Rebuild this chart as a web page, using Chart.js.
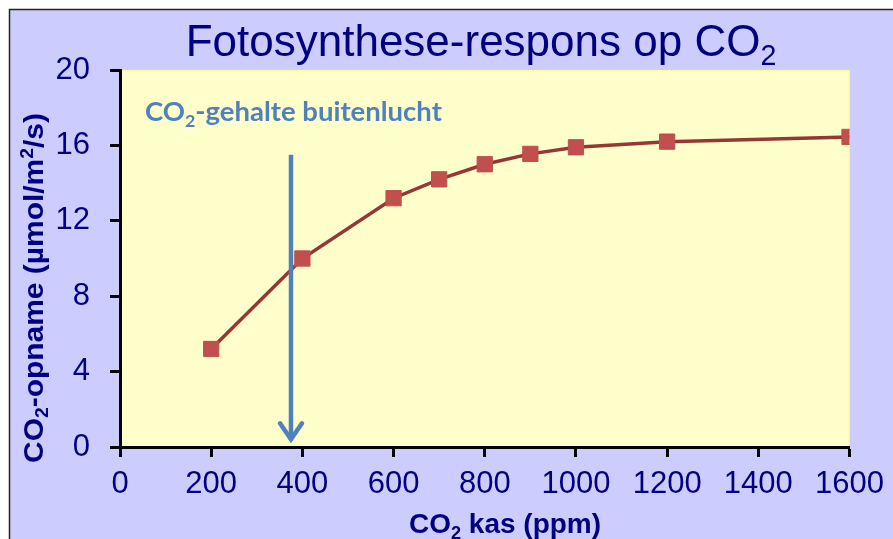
<!DOCTYPE html>
<html>
<head>
<meta charset="utf-8">
<script src="https://cdn.jsdelivr.net/npm/chart.js@4"></script>
<style>
  html, body { margin: 0; padding: 0; background: white; }
  #wrap { width: 893px; height: 539px; }
</style>
</head>
<body>
<div id="wrap"><canvas id="myChart" width="893" height="539"></canvas></div>
<script>
// data
const co2Kas = [200, 400, 600, 700, 800, 900, 1000, 1200, 1600];
const opname = [5.2, 10.0, 13.2, 14.2, 15.0, 15.55, 15.9, 16.2, 16.45];
const xTicks = [0, 200, 400, 600, 800, 1000, 1200, 1400, 1600];
const yTicks = [0, 4, 8, 12, 16, 20];
// arrow for outside air CO2 (x value, top and bottom y values)
const arrowX = [375];
const arrowY = [15.5, 0.25];

const navy = "#000080";
const arrowBlue = "#4f81bd";

// draws text with subscript / superscript pieces, returns width
function drawParts(ctx, parts, x, y, size, weight, family, align, dry) {
    let w = 0;
    parts.forEach(p => {
        let s = p.sub || p.sup ? size * 0.65 : size;
        ctx.font = weight + " " + s + "px " + family;
        w += ctx.measureText(p.t).width;
    });
    if (dry) return w;
    let cx = x;
    if (align === "center") cx = x - w / 2;
    parts.forEach(p => {
        let s = p.sub || p.sup ? size * 0.65 : size;
        ctx.font = weight + " " + s + "px " + family;
        let dy = p.sub ? size * 0.2 : (p.sup ? -size * 0.38 : 0);
        ctx.fillText(p.t, cx, y + dy);
        cx += ctx.measureText(p.t).width;
    });
    return w;
}

const decor = {
    id: "decor",
    beforeDraw(chart) {
        const ctx = chart.ctx;
        const a = chart.chartArea;
        ctx.save();
        ctx.fillStyle = "white";
        ctx.fillRect(0, 0, chart.width, chart.height);
        ctx.fillStyle = "#ccccff";
        ctx.fillRect(10, 10, chart.width - 10, chart.height - 10);
        ctx.strokeStyle = "#222";
        ctx.lineWidth = 1.5;
        ctx.beginPath();
        ctx.moveTo(9.5, chart.height);
        ctx.lineTo(9.5, 9.5);
        ctx.lineTo(chart.width, 9.5);
        ctx.stroke();
        ctx.fillStyle = "#ffffcc";
        ctx.fillRect(a.left, a.top, a.right - a.left, a.bottom - a.top);
        ctx.strokeStyle = "#ffff99";
        ctx.lineWidth = 1;
        ctx.strokeRect(a.left + 0.5, a.top + 0.5, a.right - a.left - 1, a.bottom - a.top);
        ctx.restore();
    },
    afterDatasetsDraw(chart) {
        const ctx = chart.ctx;
        const xs = chart.scales.x, ys = chart.scales.y;
        const ax = xs.getPixelForValue(arrowX[0]);
        const top = ys.getPixelForValue(arrowY[0]);
        const bot = ys.getPixelForValue(arrowY[1]);
        ctx.save();
        ctx.strokeStyle = arrowBlue;
        ctx.lineWidth = 4.5;
        ctx.beginPath();
        ctx.moveTo(ax, top);
        ctx.lineTo(ax, bot - 2);
        ctx.stroke();
        ctx.lineCap = "round";
        ctx.beginPath();
        ctx.moveTo(ax - 11, bot - 19);
        ctx.lineTo(ax, bot - 3);
        ctx.lineTo(ax + 11, bot - 19);
        ctx.stroke();

        // label over the arrow
        ctx.fillStyle = arrowBlue;
        ctx.textBaseline = "alphabetic";
        drawParts(ctx, [{t: "CO"}, {t: "2", sub: true}, {t: "-gehalte buitenlucht"}],
            145, 121, 27.5, "bold", "Lato", "left");
        ctx.restore();
    },
    afterDraw(chart) {
        const ctx = chart.ctx;
        ctx.save();
        ctx.fillStyle = navy;
        ctx.textBaseline = "alphabetic";
        // title
        drawParts(ctx, [{t: "Fotosynthese-respons op CO"}, {t: "2", sub: true}],
            481, 56, 44, "normal", "'Liberation Sans'", "center");
        // x axis title
        drawParts(ctx, [{t: "CO"}, {t: "2", sub: true}, {t: " kas (ppm)"}],
            505, 533, 28, "bold", "'Liberation Sans'", "center");
        // y axis title, rotated
        ctx.translate(43, 288);
        ctx.rotate(-Math.PI / 2);
        const yParts = [{t: "CO"}, {t: "2", sub: true}, {t: "-opname (µmol/m"}, {t: "2", sup: true}, {t: "/s)"}];
        const w = drawParts(ctx, yParts, 0, 0, 27, "bold", "'Liberation Sans'", "center", true);
        ctx.scale(350 / w, 1);
        drawParts(ctx, yParts, 0, 0, 27, "bold", "'Liberation Sans'", "center");
        ctx.restore();
    }
};

const config = {
    type: "line",
    data: {
        datasets: [{
            label: "CO2-opname",
            data: co2Kas.map((x, i) => ({x: x, y: opname[i]})),
            borderColor: "#953735",
            borderWidth: 3.5,
            pointStyle: "rect",
            pointRadius: 10.8,
            pointBackgroundColor: "#c0504d",
            pointBorderColor: "#c0504d",
            pointBorderWidth: 1,
            tension: 0
        }]
    },
    options: {
        responsive: false,
        animation: false,
        events: [],
        layout: { padding: { left: 0, top: 70, right: 43, bottom: 0 } },
        plugins: { legend: { display: false }, title: { display: false }, tooltip: { enabled: false } },
        scales: {
            x: {
                type: "linear",
                min: 0,
                max: 1600,
                afterBuildTicks: (s) => { s.ticks = xTicks.map(v => ({value: v})); },
                afterFit: (s) => { s.height = 92; },
                border: { color: "black", width: 3 },
                grid: { drawOnChartArea: false, tickLength: 10, tickColor: "black", tickWidth: 3 },
                ticks: { color: navy, font: { family: "'Liberation Sans'", size: 31 }, padding: 9, maxRotation: 0,
                         callback: (v) => String(v) }
            },
            y: {
                min: 0,
                max: 20,
                afterBuildTicks: (s) => { s.ticks = yTicks.map(v => ({value: v})); },
                afterFit: (s) => { s.width = 120; },
                border: { color: "black", width: 3 },
                grid: { drawOnChartArea: false, tickLength: 10, tickColor: "black", tickWidth: 3 },
                ticks: { color: navy, font: { family: "'Liberation Sans'", size: 31 }, padding: 20,
                         callback: (v) => String(v) }
            }
        }
    },
    plugins: [decor]
};

const chart = new Chart(document.getElementById("myChart"), config);
</script>
</body>
</html>
